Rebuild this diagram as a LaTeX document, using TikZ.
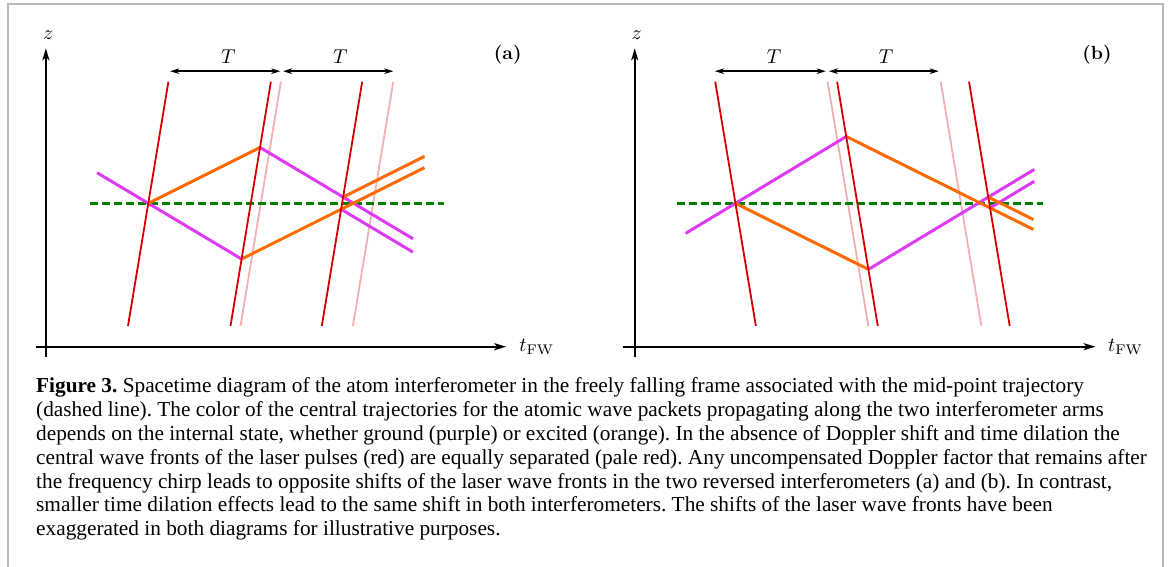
\documentclass[tikz,border=0pt]{standalone}
\usepackage{fix-cm}
\usepackage{fontspec}
\newfontfamily\capfont{Liberation Serif}
\usetikzlibrary{arrows.meta,calc}
\definecolor{wred}{HTML}{D40000}
\definecolor{wpale}{HTML}{F2B0B0}
\definecolor{wpurp}{HTML}{DD3BF5}
\definecolor{worange}{HTML}{FF6A00}
\definecolor{wgreen}{HTML}{008000}
\definecolor{framec}{HTML}{B8B8B8}
\tikzset{
  axisline/.style={line width=2pt,-{Stealth[length=12pt,width=7pt,inset=3pt]}},
  tarrow/.style={line width=1.6pt,{Stealth[length=9pt,width=5.5pt,inset=2.5pt]}-{Stealth[length=9pt,width=5.5pt,inset=2.5pt]}},
  front/.style={wred,line width=1.8pt},
  palefront/.style={wpale,line width=1.8pt},
  ground/.style={wpurp,line width=3pt},
  excited/.style={worange,line width=3pt},
  midline/.style={wgreen,line width=2.6pt,dash pattern=on 8pt off 4pt},
  lbl/.style={inner sep=0pt,scale=2.0},
  panellbl/.style={inner sep=0pt,scale=1.9},
  capline/.style={inner sep=0pt,anchor=base west,font=\capfont\fontsize{21.3}{24}\selectfont\frenchspacing},
  frameline/.style={framec,line width=1.5pt}
}
\begin{document}
\begin{tikzpicture}[x=1pt,y=-1pt]
\useasboundingbox (0,0) rectangle (1171,567);
% frame
\coordinate (f1) at (8,567); \coordinate (f2) at (8,4);
\coordinate (f3) at (1163,4); \coordinate (f4) at (1163,567);
\draw[frameline] (f1) -- (f2) -- (f3) -- (f4);

% ================= panel (a) =================
\coordinate (aYb) at (45.9,356.7); \coordinate (aYt) at (45.9,48.3);
\coordinate (aXl) at (35.8,346.7); \coordinate (aXr) at (506.2,346.7);
\draw[axisline] (aYb) -- (aYt);
\draw[axisline] (aXl) -- (aXr);
\node[lbl,anchor=base] (az) at (48.3,40) {$z$};
\node[lbl,anchor=base west] (at) at (519,351.7) {$t_{\mathrm{FW}}$};
\node[panellbl,anchor=base] (alab) at (507.7,59.3) {\textbf{(a)}};

\coordinate (aA2t) at (280.9,81.7); \coordinate (aA2b) at (240.5,326);
\coordinate (aA3t) at (393.3,81.7); \coordinate (aA3b) at (352.9,326);
\coordinate (aR1t) at (168.4,81.7); \coordinate (aR1b) at (128.0,326);
\coordinate (aR2t) at (270.9,81.7); \coordinate (aR2b) at (230.5,326);
\coordinate (aR3t) at (362.2,81.7); \coordinate (aR3b) at (321.8,326);
\coordinate (aG1) at (89.6,203.3); \coordinate (aG2) at (444.1,203.3);

\coordinate (aP) at (intersection of aR1t--aR1b and aG1--aG2);
\coordinate (aPo) at ($(aP)+(100,-50)$);
\coordinate (aPp) at ($(aP)+(100,59.7)$);
\coordinate (aQ) at (intersection of aP--aPo and aR2t--aR2b);
\coordinate (aR) at (intersection of aP--aPp and aR2t--aR2b);
\coordinate (aQp) at ($(aQ)+(100,59.7)$);
\coordinate (aRo) at ($(aR)+(100,-50)$);
\coordinate (aS) at (intersection of aQ--aQp and aR3t--aR3b);
\coordinate (aU) at (intersection of aR--aRo and aR3t--aR3b);
\coordinate (aSo) at ($(aS)+(100,-50)$);
\coordinate (aUp) at ($(aU)+(100,59.7)$);
\coordinate (aVs1) at (97.1,0); \coordinate (aVs2) at (97.1,400);
\coordinate (aVp1) at (412.9,0); \coordinate (aVp2) at (412.9,400);
\coordinate (aVo1) at (424.5,0); \coordinate (aVo2) at (424.5,400);
\coordinate (aPs) at (intersection of aP--aPp and aVs1--aVs2);
\coordinate (aE1) at (intersection of aQ--aQp and aVp1--aVp2);
\coordinate (aE2) at (intersection of aU--aUp and aVp1--aVp2);
\coordinate (aE3) at (intersection of aS--aSo and aVo1--aVo2);
\coordinate (aE4) at (intersection of aR--aRo and aVo1--aVo2);

\draw[palefront] (aA2t) -- (aA2b);
\draw[palefront] (aA3t) -- (aA3b);
\draw[midline] (aG1) -- (aG2);
\draw[ground] (aPs) -- (aR);
\draw[ground] (aQ) -- (aE1);
\draw[ground] (aU) -- (aE2);
\draw[excited] (aP) -- (aQ);
\draw[excited] (aR) -- (aE4);
\draw[excited] (aS) -- (aE3);
\draw[front] (aR1t) -- (aR1b);
\draw[front] (aR2t) -- (aR2b);
\draw[front] (aR3t) -- (aR3b);

\coordinate (aT1) at (170.1,71.2); \coordinate (aT2) at (280.4,71.2);
\coordinate (aT3) at (283.0,71.2); \coordinate (aT4) at (393.3,71.2);
\draw[tarrow] (aT1) -- (aT2);
\draw[tarrow] (aT3) -- (aT4);
\node[lbl,anchor=base] (aTl1) at (228.3,64) {$T$};
\node[lbl,anchor=base] (aTl2) at (340.3,64) {$T$};

% ================= panel (b) =================
\coordinate (bYb) at (634.7,356.7); \coordinate (bYt) at (634.7,48.3);
\coordinate (bXl) at (623.3,346.7); \coordinate (bXr) at (1095.6,346.7);
\draw[axisline] (bYb) -- (bYt);
\draw[axisline] (bXl) -- (bXr);
\node[lbl,anchor=base] (bz) at (636.8,40) {$z$};
\node[lbl,anchor=base west] (bt) at (1107.7,351.7) {$t_{\mathrm{FW}}$};
\node[panellbl,anchor=base] (blab) at (1097,59.3) {\textbf{(b)}};

\coordinate (bA2t) at (827.6,81.7); \coordinate (bA2b) at (868.3,326);
\coordinate (bA3t) at (940.7,81.7); \coordinate (bA3b) at (981.4,326);
\coordinate (bR1t) at (715.2,81.7); \coordinate (bR1b) at (755.9,326);
\coordinate (bR2t) at (837.1,81.7); \coordinate (bR2b) at (877.8,326);
\coordinate (bR3t) at (969.0,81.7); \coordinate (bR3b) at (1009.7,326);
\coordinate (bG1) at (677.2,203.3); \coordinate (bG2) at (1042.9,203.3);

\coordinate (bP) at (intersection of bR1t--bR1b and bG1--bG2);
\coordinate (bPp) at ($(bP)+(100,-60.3)$);
\coordinate (bPo) at ($(bP)+(100,49.7)$);
\coordinate (bQ) at (intersection of bP--bPp and bR2t--bR2b);
\coordinate (bR) at (intersection of bP--bPo and bR2t--bR2b);
\coordinate (bQo) at ($(bQ)+(100,49.7)$);
\coordinate (bRp) at ($(bR)+(100,-60.3)$);
\coordinate (bS) at (intersection of bQ--bQo and bR3t--bR3b);
\coordinate (bU) at (intersection of bR--bRp and bR3t--bR3b);
\coordinate (bSp) at ($(bS)+(100,-60.3)$);
\coordinate (bUo) at ($(bU)+(100,49.7)$);
\coordinate (bVs1) at (685.5,0); \coordinate (bVs2) at (685.5,400);
\coordinate (bVp1) at (1034.2,0); \coordinate (bVp2) at (1034.2,400);
\coordinate (bVo1) at (1033.4,0); \coordinate (bVo2) at (1033.4,400);
\coordinate (bPs) at (intersection of bP--bPp and bVs1--bVs2);
\coordinate (bE1) at (intersection of bS--bSp and bVp1--bVp2);
\coordinate (bE2) at (intersection of bU--bUo and bVo1--bVo2);
\coordinate (bE3) at (intersection of bQ--bQo and bVo1--bVo2);
\coordinate (bE4) at (intersection of bR--bRp and bVp1--bVp2);

\draw[palefront] (bA2t) -- (bA2b);
\draw[palefront] (bA3t) -- (bA3b);
\draw[midline] (bG1) -- (bG2);
\draw[ground] (bPs) -- (bQ);
\draw[ground] (bR) -- (bE4);
\draw[ground] (bS) -- (bE1);
\draw[excited] (bP) -- (bR);
\draw[excited] (bQ) -- (bE3);
\draw[excited] (bU) -- (bE2);
\draw[front] (bR1t) -- (bR1b);
\draw[front] (bR2t) -- (bR2b);
\draw[front] (bR3t) -- (bR3b);

\coordinate (bT1) at (714.9,71.2); \coordinate (bT2) at (825.8,71.2);
\coordinate (bT3) at (828.8,71.2); \coordinate (bT4) at (938.8,71.2);
\draw[tarrow] (bT1) -- (bT2);
\draw[tarrow] (bT3) -- (bT4);
\node[lbl,anchor=base] (bTl1) at (774.1,64) {$T$};
\node[lbl,anchor=base] (bTl2) at (886.1,64) {$T$};

% ================= caption =================
\node[capline] (c1) at (36,392.4) {\textbf{Figure 3.} Spacetime diagram of the atom interferometer in the freely falling frame associated with the mid-point trajectory};
\node[capline] (c2) at (36,416.3) {(dashed line). The color of the central trajectories for the atomic wave packets propagating along the two interferometer arms};
\node[capline] (c3) at (36,440.2) {depends on the internal state, whether ground (purple) or excited (orange). In the absence of Doppler shift and time dilation the};
\node[capline] (c4) at (36,464.1) {central wave fronts of the laser pulses (red) are equally separated (pale red). Any uncompensated Doppler factor that remains after};
\node[capline] (c5) at (36,488.0) {the frequency chirp leads to opposite shifts of the laser wave fronts in the two reversed interferometers (a) and (b). In contrast,};
\node[capline] (c6) at (36,511.9) {smaller time dilation effects lead to the same shift in both interferometers. The shifts of the laser wave fronts have been};
\node[capline] (c7) at (36,535.8) {exaggerated in both diagrams for illustrative purposes.};
\end{tikzpicture}
\end{document}
